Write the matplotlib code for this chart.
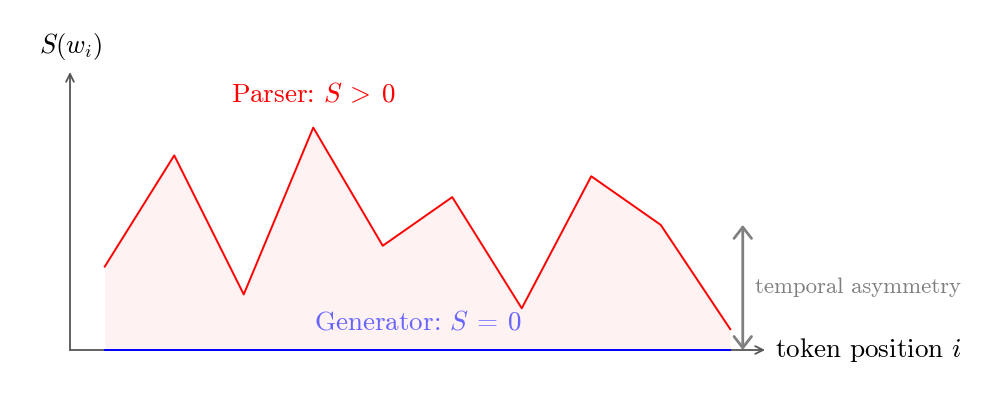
import numpy as np
import matplotlib.pyplot as plt

plt.rcParams['font.family'] = 'cmr10'
plt.rcParams['mathtext.fontset'] = 'cm'
plt.rcParams['axes.unicode_minus'] = False

# token positions and parser surprisal values
positions = [0.5, 1.5, 2.5, 3.5, 4.5, 5.5, 6.5, 7.5, 8.5, 9.5]
parser_S = [1.2, 2.8, 0.8, 3.2, 1.5, 2.2, 0.6, 2.5, 1.8, 0.3]
generator_S = [0, 0, 0, 0, 0, 0, 0, 0, 0, 0]
asym_x = 9.68
asym_top = 1.8

fig = plt.figure(figsize=(10, 3.98), dpi=100)
ax = fig.add_axes([0, 0, 1, 1])
px = 69.5
ax.set_xlim(-70 / px, (1000 - 70) / px)
ax.set_ylim(-(398 - 350) / px, 350 / px)
ax.axis('off')

axis_col = '#555555'
# axes arrows
ax.annotate('', xy=(10.0, 0), xytext=(0, 0),
            arrowprops=dict(arrowstyle='->', color=axis_col, lw=1.3, shrinkA=0, shrinkB=0,
                            mutation_scale=14), zorder=2)
ax.annotate('', xy=(0, 4.0), xytext=(0, 0),
            arrowprops=dict(arrowstyle='->', color=axis_col, lw=1.3, shrinkA=0, shrinkB=0,
                            mutation_scale=14), zorder=2)

# parser curve with fill
ax.fill_between(positions, parser_S, 0, color='#fff2f2', lw=0, zorder=1)
ax.plot(positions, parser_S, color='red', lw=1.4, zorder=4)
# generator line
ax.plot(positions, generator_S, color='blue', lw=1.4, zorder=5)

# asymmetry arrow
ax.annotate('', xy=(asym_x, asym_top), xytext=(asym_x, 0),
            arrowprops=dict(arrowstyle='<->,head_length=0.45,head_width=0.35', color='gray',
                            lw=2, shrinkA=0, shrinkB=0, mutation_scale=18), zorder=6)

ax.text(0, 4.36, r'$S(w_i)$', ha='center', va='center', fontsize=19)
ax.text(10.15, 0, r'token position $i$', ha='left', va='center', fontsize=19.5)
ax.text(3.5, 3.67, r'Parser: $S\:>\:0$', ha='center', va='center', fontsize=19.5,
        color='red')
ax.text(5.0, 0.4, r'Generator: $S\:=\:0$', ha='center', va='center', fontsize=19.5,
        color='#6666ff')
ax.text(9.85, 0.9, 'temporal asymmetry', ha='left', va='center', fontsize=16.4,
        color='#808080')

fig.savefig('out.png', dpi=100)
